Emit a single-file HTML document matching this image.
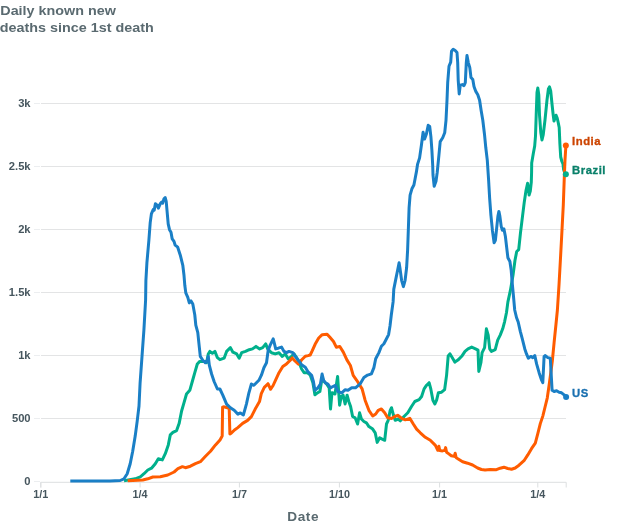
<!DOCTYPE html><html><head><meta charset="utf-8"><title>Daily known new deaths since 1st death</title>
<style>html,body{margin:0;padding:0;background:#fff}svg{display:block}text{font-family:"Liberation Sans",sans-serif;font-weight:bold}</style></head><body>
<svg width="638" height="528" viewBox="0 0 638 528">
<rect width="638" height="528" fill="#fff"/>
<text x="0.3" y="15" font-size="13.6" fill="#5a6a70" textLength="115.5" lengthAdjust="spacingAndGlyphs">Daily known new</text>
<text x="-0.3" y="32" font-size="13.6" fill="#5a6a70" textLength="154" lengthAdjust="spacingAndGlyphs">deaths since 1st death</text>
<line x1="34" x2="40" y1="481.5" y2="481.5" stroke="#eceef0" stroke-width="1"/>
<text x="30.6" y="485.3" font-size="11.2" text-anchor="end" fill="#46565e">0</text>
<line x1="34" x2="40" y1="418.5" y2="418.5" stroke="#eceef0" stroke-width="1"/>
<line x1="41" x2="566" y1="418.5" y2="418.5" stroke="#e3e4e5" stroke-width="1"/>
<text x="30.6" y="422.3" font-size="11.2" text-anchor="end" fill="#46565e">500</text>
<line x1="34" x2="40" y1="355.5" y2="355.5" stroke="#eceef0" stroke-width="1"/>
<line x1="41" x2="566" y1="355.5" y2="355.5" stroke="#e3e4e5" stroke-width="1"/>
<text x="30.6" y="359.3" font-size="11.2" text-anchor="end" fill="#46565e">1k</text>
<line x1="34" x2="40" y1="292.5" y2="292.5" stroke="#eceef0" stroke-width="1"/>
<line x1="41" x2="566" y1="292.5" y2="292.5" stroke="#e3e4e5" stroke-width="1"/>
<text x="30.6" y="296.3" font-size="11.2" text-anchor="end" fill="#46565e">1.5k</text>
<line x1="34" x2="40" y1="229.5" y2="229.5" stroke="#eceef0" stroke-width="1"/>
<line x1="41" x2="566" y1="229.5" y2="229.5" stroke="#e3e4e5" stroke-width="1"/>
<text x="30.6" y="233.3" font-size="11.2" text-anchor="end" fill="#46565e">2k</text>
<line x1="34" x2="40" y1="166.5" y2="166.5" stroke="#eceef0" stroke-width="1"/>
<line x1="41" x2="566" y1="166.5" y2="166.5" stroke="#e3e4e5" stroke-width="1"/>
<text x="30.6" y="170.3" font-size="11.2" text-anchor="end" fill="#46565e">2.5k</text>
<line x1="34" x2="40" y1="103.5" y2="103.5" stroke="#eceef0" stroke-width="1"/>
<line x1="41" x2="566" y1="103.5" y2="103.5" stroke="#e3e4e5" stroke-width="1"/>
<text x="30.6" y="107.3" font-size="11.2" text-anchor="end" fill="#46565e">3k</text>
<path d="M40.8,487.5V482.3H566.2V487.5" fill="none" stroke="#dcdfe0" stroke-width="1"/>
<line x1="40.8" x2="40.8" y1="482.3" y2="487.5" stroke="#dcdfe0" stroke-width="1"/>
<text x="40.8" y="497.7" font-size="10.8" text-anchor="middle" fill="#46565e">1/1</text>
<line x1="140.1" x2="140.1" y1="482.3" y2="487.5" stroke="#dcdfe0" stroke-width="1"/>
<text x="140.1" y="497.7" font-size="10.8" text-anchor="middle" fill="#46565e">1/4</text>
<line x1="239.4" x2="239.4" y1="482.3" y2="487.5" stroke="#dcdfe0" stroke-width="1"/>
<text x="239.4" y="497.7" font-size="10.8" text-anchor="middle" fill="#46565e">1/7</text>
<line x1="339.4" x2="339.4" y1="482.3" y2="487.5" stroke="#dcdfe0" stroke-width="1"/>
<text x="339.4" y="497.7" font-size="10.8" text-anchor="middle" fill="#46565e">1/10</text>
<line x1="439.6" x2="439.6" y1="482.3" y2="487.5" stroke="#dcdfe0" stroke-width="1"/>
<text x="439.6" y="497.7" font-size="10.8" text-anchor="middle" fill="#46565e">1/1</text>
<line x1="537.8" x2="537.8" y1="482.3" y2="487.5" stroke="#dcdfe0" stroke-width="1"/>
<text x="537.8" y="497.7" font-size="10.8" text-anchor="middle" fill="#46565e">1/4</text>
<text x="303.2" y="521.1" font-size="13.6" text-anchor="middle" fill="#5a6a70" letter-spacing="0.55">Date</text>
<path d="M124.0,480.8L135.2,478.8L140.3,476.8L144.0,473.7L147.8,470.0L151.5,468.2L155.3,463.7L158.3,458.7L162.3,459.9L165.3,453.7L168.3,444.9L170.3,434.9L172.9,432.4L176.6,430.6L179.1,423.6L181.6,411.0L184.1,402.3L186.5,394.0L189.8,390.3L192.3,381.5L194.8,372.7L197.3,364.0L199.8,361.4L203.8,361.4L206.6,362.7L208.3,353.9L209.8,351.4L212.4,353.2L214.9,351.4L217.4,357.7L219.9,359.7L224.1,358.2L226.6,351.4L230.4,347.6L232.9,352.2L236.7,353.9L239.2,358.2L241.7,352.7L245.5,351.4L249.2,349.7L252.5,348.9L256.0,346.4L259.7,348.9L262.7,347.6L265.7,343.9L267.7,348.9L271.5,352.7L275.2,353.9L279.0,352.7L282.3,356.4L285.3,353.9L288.3,358.9L291.5,356.4L294.0,353.9L296.6,357.7L299.1,362.7L301.6,369.0L304.1,372.7L307.3,372.7L310.3,375.2L312.9,382.8L314.9,394.8L317.4,392.8L319.9,391.5L322.1,378.0L324.1,381.5L326.6,384.0L329.2,387.8L330.5,409.0L332.0,392.7L335.0,394.0L337.6,376.4L339.6,405.2L341.3,396.5L343.1,395.2L345.1,404.0L347.1,395.2L348.8,401.5L350.6,406.5L352.6,416.5L355.1,417.8L357.6,424.0L359.6,412.8L361.4,419.0L363.9,421.5L366.4,422.8L368.9,426.6L372.7,429.1L375.2,432.8L377.2,442.4L379.7,437.8L382.2,439.1L384.7,440.3L386.5,424.0L388.2,420.3L390.2,410.3L391.5,407.7L393.5,415.3L395.2,420.3L398.2,419.0L400.3,420.8L404.0,416.5L407.8,412.8L411.5,406.5L414.8,401.5L419.1,399.7L421.6,396.5L424.1,388.9L426.6,385.2L429.1,382.7L430.8,388.9L432.9,400.2L434.9,404.0L436.6,400.2L438.4,392.7L441.6,392.2L444.6,389.7L446.6,375.1L448.2,356.0L449.9,353.8L452.9,358.8L454.9,362.1L457.9,360.1L461.7,356.3L465.0,351.3L468.0,348.8L471.7,347.1L475.5,348.8L478.0,350.1L478.8,371.4L480.9,362.7L482.1,352.6L484.6,347.6L486.4,328.8L488.2,335.1L489.7,348.9L491.4,351.4L495.2,349.6L497.7,340.1L500.2,335.1L502.7,328.8L504.7,321.3L506.5,312.5L507.9,301.9L510.4,290.4L513.0,275.3L515.0,260.3L516.7,251.5L518.7,249.7L520.5,232.7L522.5,216.4L524.2,202.6L526.0,190.5L527.6,183.2L528.4,188.0L529.1,195.0L530.3,191.0L531.3,182.0L531.6,172.0L531.7,163.0L533.3,153.6L534.7,146.0L535.5,136.0L536.2,115.0L537.0,92.5L537.8,88.0L538.8,95.0L539.5,115.0L540.8,132.5L542.0,140.0L543.2,135.0L545.0,120.0L547.0,100.0L548.4,89.0L549.5,86.8L550.7,91.0L552.0,104.0L553.2,115.0L554.0,121.0L555.0,118.0L556.0,115.2L557.2,118.0L558.2,122.5L559.2,127.5L559.9,144.0L560.7,157.0L561.9,161.5L563.0,164.0L563.6,169.5L564.8,173.0L565.9,174.3" fill="none" stroke="#00b08c" stroke-width="3" stroke-linejoin="round" stroke-linecap="butt"/>
<path d="M127.7,480.8L142.8,480.0L147.8,478.8L152.8,477.0L160.3,476.8L167.8,475.0L174.1,472.0L177.9,468.7L182.4,466.7L185.4,467.7L190.4,466.2L195.4,463.7L200.4,461.7L205.5,456.2L210.5,451.2L215.5,444.9L220.0,439.9L222.2,436.0L222.6,407.2L223.6,406.8L229.2,408.2L229.9,434.0L231.2,433.2L234.5,430.0L237.8,427.6L242.6,423.4L247.6,420.4L251.4,416.6L255.2,409.1L259.5,401.6L261.3,393.7L264.3,387.4L268.0,383.7L270.6,389.3L273.1,385.5L275.8,379.6L279.0,372.7L282.8,366.5L286.5,363.9L290.3,360.2L292.2,357.9L295.0,361.0L298.4,364.1L301.5,360.0L305.3,356.2L308.0,355.6L310.2,355.0L312.3,350.7L315.1,344.3L318.7,338.0L322.2,334.7L327.1,334.2L329.9,337.3L333.5,341.5L336.3,347.2L339.8,346.5L343.3,352.1L346.9,359.9L350.4,365.5L353.2,375.4L356.7,380.3L358.9,383.8L362.1,388.9L365.1,400.2L368.9,410.3L372.7,416.0L375.7,414.0L378.2,410.3L381.4,409.0L384.7,412.8L387.7,417.8L391.5,418.5L394.7,416.5L397.7,415.3L401.5,418.3L405.3,419.8L409.8,418.3L413.3,424.0L416.6,429.1L420.3,432.8L425.3,437.3L430.3,440.3L435.4,445.4L437.8,450.3L438.9,446.2L439.8,450.6L442.5,450.9L444.8,450.4L445.6,447.6L446.6,452.2L448.5,453.6L451.3,455.7L454.3,456.4L455.2,453.2L456.2,457.8L457.8,458.7L462.6,461.7L467.6,463.2L472.6,465.0L477.6,468.0L481.4,469.5L485.1,470.0L490.2,469.5L496.4,469.7L500.2,468.2L503.9,467.2L507.7,468.5L511.5,469.2L515.2,468.0L519.0,465.2L524.0,460.7L527.8,454.9L531.5,448.7L535.3,443.1L537.8,433.6L540.3,423.6L542.8,416.1L545.3,406.0L547.3,397.8L549.1,385.2L550.8,372.7L552.4,360.2L554.1,342.6L555.9,325.0L557.4,310.0L559.0,285.0L560.5,258.0L562.0,230.0L563.3,205.0L564.2,180.0L565.0,160.0L565.9,145.6" fill="none" stroke="#ff5c00" stroke-width="3" stroke-linejoin="round" stroke-linecap="butt"/>
<path d="M70.3,480.9L110.0,480.9L120.2,480.5L124.0,478.8L127.2,473.7L130.2,463.7L132.7,451.2L135.2,436.1L137.2,421.1L139.0,406.0L140.1,382.8L142.1,355.2L143.9,330.1L145.6,300.0L145.9,280.3L146.9,262.8L148.9,240.2L150.2,222.6L151.4,213.9L153.2,209.6L154.2,210.1L155.4,203.8L157.2,205.1L158.4,208.1L160.2,203.8L161.7,202.1L162.7,203.1L164.0,198.8L165.2,197.6L166.2,201.3L167.2,212.6L168.2,223.9L169.5,229.7L171.0,232.2L172.2,238.9L174.0,241.4L175.2,245.2L177.7,247.2L180.3,255.2L182.8,265.3L184.0,275.3L184.8,285.3L185.8,292.9L187.8,297.4L189.3,302.9L191.0,300.9L192.8,304.1L194.8,315.0L195.8,325.1L197.8,332.6L199.1,345.1L200.3,356.4L202.8,360.2L205.3,362.7L207.3,360.2L208.3,356.4L209.3,365.2L211.6,374.0L214.1,381.5L217.4,389.0L219.9,389.0L222.9,395.3L226.6,404.1L230.4,407.8L234.2,410.3L237.9,414.1L240.4,412.9L243.4,414.9L246.4,404.1L248.9,392.8L251.4,384.0L253.9,385.3L256.4,382.8L258.9,380.3L261.4,375.2L263.9,367.7L266.5,362.7L268.2,350.2L270.2,345.1L273.2,338.9L274.5,343.9L275.7,348.9L278.2,348.2L281.5,347.1L284.0,351.4L286.5,352.7L289.0,351.4L292.8,352.7L295.3,356.4L298.3,360.2L301.6,364.7L305.3,367.2L307.8,371.5L311.6,375.2L313.4,381.5L314.9,390.3L317.9,387.8L320.4,384.0L322.1,374.0L323.6,380.3L325.4,382.8L327.9,384.0L330.4,387.8L332.9,386.5L335.4,385.3L337.9,391.5L341.7,392.8L345.0,389.8L348.0,390.3L351.7,387.8L355.5,387.8L360.1,383.9L363.9,377.6L367.6,375.1L371.4,373.9L373.9,367.6L375.7,358.8L378.9,352.6L381.4,346.3L383.9,343.8L386.5,338.8L388.6,334.6L390.0,326.0L391.3,315.0L393.1,301.9L393.8,289.1L395.8,279.1L397.6,270.3L399.1,262.8L400.1,269.1L401.6,280.3L403.4,286.6L405.1,280.3L406.6,267.8L407.6,250.3L408.4,227.7L409.1,207.6L410.1,195.1L411.9,188.8L413.9,185.0L415.1,178.8L416.4,171.9L417.6,164.1L419.6,157.9L421.4,145.3L423.1,132.3L424.6,139.1L426.4,134.0L428.2,125.3L429.7,126.5L430.9,136.6L431.9,150.3L432.7,165.4L433.0,175.0L434.2,186.3L436.0,181.3L437.2,172.5L438.9,155.4L440.2,141.6L442.7,137.8L444.7,132.8L446.0,120.3L447.0,100.2L447.7,82.6L449.0,66.3L450.7,62.1L451.5,51.3L453.2,49.3L455.2,50.5L457.0,52.5L457.7,62.6L458.2,80.1L459.2,93.9L460.3,85.1L462.3,84.6L464.0,85.6L465.3,82.6L466.3,62.6L467.0,55.5L468.3,62.6L469.8,67.6L471.0,77.6L472.8,79.6L474.0,86.4L475.8,91.4L477.8,94.7L479.6,100.2L481.1,110.2L482.8,120.3L484.6,135.3L485.8,147.8L487.3,160.4L488.6,180.0L489.6,197.6L490.9,215.1L492.4,230.2L494.1,242.7L495.4,240.2L496.6,228.9L497.9,216.4L498.9,211.4L499.9,216.4L501.2,226.4L502.4,230.2L503.9,228.9L505.4,236.5L506.7,247.7L507.9,257.8L509.9,261.5L511.2,270.3L512.2,282.9L513.4,295.4L514.7,310.0L516.5,317.5L518.2,322.0L520.3,331.3L522.3,338.8L524.8,348.9L526.5,353.9L528.3,358.2L530.8,356.4L532.8,357.6L534.8,355.6L536.6,363.9L539.1,372.7L541.6,380.2L542.8,382.7L544.1,356.4L545.3,355.6L547.8,357.6L550.3,358.2L551.1,372.7L552.1,390.3L554.1,391.5L556.6,390.8L559.1,392.3L561.6,392.8L564.1,394.8L566.1,397.0" fill="none" stroke="#1a7fc6" stroke-width="3" stroke-linejoin="round" stroke-linecap="butt"/>
<circle cx="565.85" cy="174.3" r="3" fill="#00b08c"/>
<text x="572" y="174.0" font-size="11.3" fill="#0a806a" stroke="#0a806a" stroke-width="0.3" letter-spacing="0.55">Brazil</text>
<circle cx="565.85" cy="145.6" r="3" fill="#ff5c00"/>
<text x="572" y="145.3" font-size="11.3" fill="#cc4400" stroke="#cc4400" stroke-width="0.3" letter-spacing="0.55">India</text>
<circle cx="566.1" cy="397" r="3" fill="#1a7fc6"/>
<text x="572" y="396.7" font-size="11.3" fill="#1a70b0" stroke="#1a70b0" stroke-width="0.3" letter-spacing="0.55">US</text>
</svg></body></html>
